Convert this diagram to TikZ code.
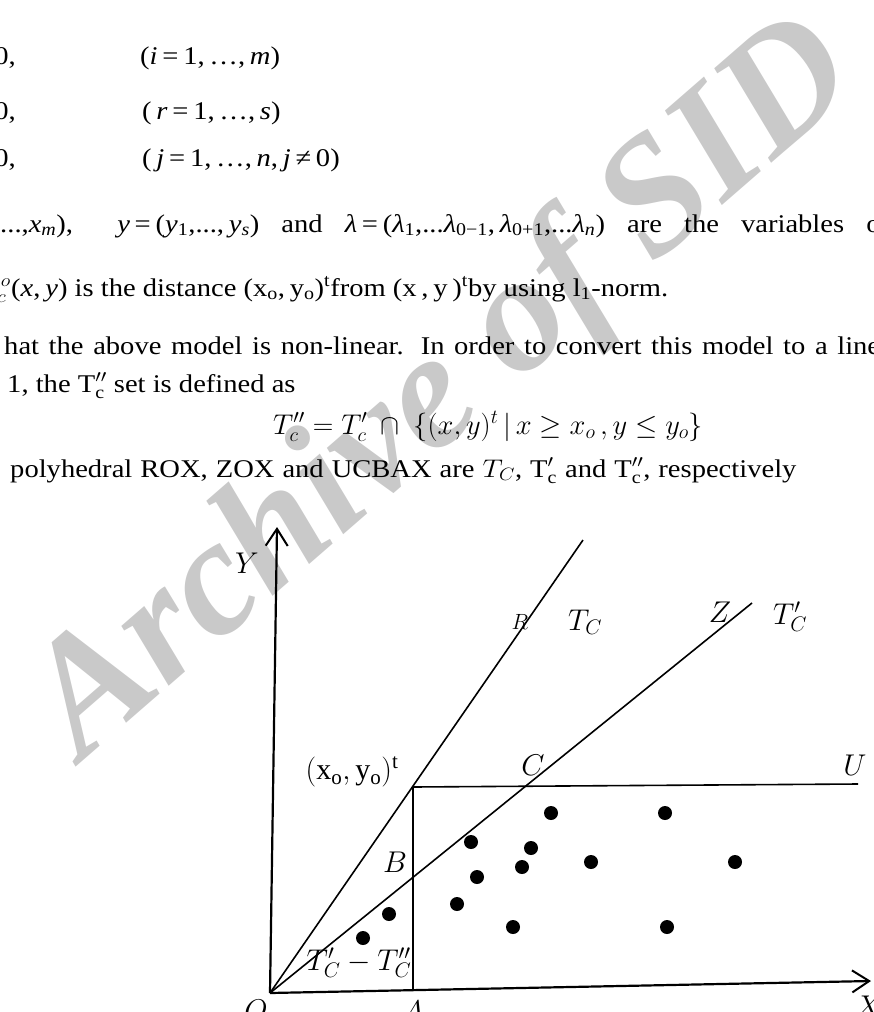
\RequirePackage{fix-cm}
\documentclass[tikz,border=0pt]{standalone}
\usepackage{fontspec}
\setmainfont{Liberation Serif}
\usetikzlibrary{arrows.meta}

\colorlet{markgray}{black!21}
% italic variable with a subscript, set in the text font
\newcommand{\vsub}[2]{\textit{#1}\textsubscript{#2}}

\begin{document}
\begin{tikzpicture}[x=1pt, y=-1pt,
  body/.style  = {anchor=base west, inner sep=0pt, xscale=1.12,
                  font=\fontsize{25.5}{30}\selectfont},
  eqn/.style   = {anchor=base west, inner sep=0pt,
                  font=\fontsize{28.5}{34}\selectfont},
  lbl/.style   = {inner sep=0pt, font=\fontsize{30}{36}\selectfont},
  ray/.style   = {line width=1.6pt},
  axis/.style  = {line width=2.2pt},
  barb/.style  = {-{Straight Barb[length=17pt, width=22pt, line width=2pt]}},
  dot/.style   = {circle, fill=black, inner sep=0pt, minimum size=14pt}
]
\useasboundingbox (0,0) rectangle (873,1012);

% watermark behind everything
\node[rotate=41, text=markgray, inner sep=0pt,
      font=\fontsize{166}{166}\selectfont\bfseries\itshape] (mark) at (446,392) {Archive of SID};

% text of the page above the figure
\node[body, anchor=base east] (c1) at (16,64)  {0,};
\node[body] (i1) at (140,64)  {(\textit{i}\,=\,1,\,…,\,\textit{m})};
\node[body, anchor=base east] (c2) at (16,119) {0,};
\node[body] (i2) at (142,119) {(\,\textit{r}\,=\,1,\,…,\,\textit{s})};
\node[body, anchor=base east] (c3) at (16,166) {0,};
\node[body] (i3) at (142,166) {(\,\textit{j}\,=\,1,\,…,\,\textit{n},\,\textit{j}\,≠\,0)};
\node[body] (l4) at (0,232) {\makebox[786pt][s]{\mbox{...,\vsub{x}{\textit{m}}),} \ \mbox{\textit{y}\,=\,(\vsub{y}{1},...,\,\vsub{y}{\textit{s}})} and \mbox{\textit{λ}\,=\,(\vsub{λ}{1},...\vsub{λ}{0−1},\,\vsub{λ}{0+1},...\vsub{λ}{\textit{n}})} are the variables o}};
\node[body, anchor=base east] (d5) at (11,296) {$d^{\,o}_{c}$};
\node[body] (l5) at (11,296) {(\textit{x},\,\textit{y}) is the distance (x\textsubscript{o},\,y\textsubscript{o})\textsuperscript{t}from (x\,,\,y\,)\textsuperscript{t}by using l\textsubscript{1}-norm.};
\node[body] (l6) at (4,354) {\makebox[782pt][s]{hat the above model is non-linear. In order to convert this model to a line}};
\node[body] (l7) at (7,392) {1, the $\mathrm{T}^{\prime\prime}_{\mathrm{c}}$ set is defined as};
\node[eqn]  (l8) at (273,434) {$T^{\prime\prime}_c=T^{\prime}_c\ \cap\ \{(x,y)^t\,|\,x\geq x_o\,,y\leq y_o\}$};
\node[body] (l9) at (10,477) {\makebox[702pt][s]{polyhedral ROX, ZOX and UCBAX are \mbox{$T_C$,} \mbox{$\mathrm{T}^{\prime}_{\mathrm{c}}$} and \mbox{$\mathrm{T}^{\prime\prime}_{\mathrm{c}}$,} respectively}};

% points of the figure
\coordinate (O)    at (270,993);
\coordinate (Ytip) at (277,527);
\coordinate (Xtip) at (871,981);
\coordinate (Rend) at (583,540);
\coordinate (Zend) at (752,603);
\coordinate (P)    at (413,787);
\coordinate (Uend) at (858,784);
\coordinate (A)    at (413,990);

% axes and rays
\draw[axis, barb] (O) -- (Ytip);
\draw[axis, barb] (O) -- (Xtip);
\draw[ray] (O) -- (Rend);
\draw[ray] (O) -- (Zend);
\draw[ray] (P) -- (Uend);
\draw[ray] (P) -- (A);

% labels
\node[lbl] (ly)  at (247,563) {$Y$};
\node[lbl, font=\fontsize{22}{26}\selectfont] (lr) at (520,622) {$R$};
\node[lbl] (ltc) at (585,622) {$T_C$};
\node[lbl] (lz)  at (720,612) {$Z$};
\node[lbl] (ltp) at (790,617) {$T^{\prime}_C$};
\node[lbl] (lp)  at (352,772) {$(\mathrm{x_o},\mathrm{y_o})^{\mathrm{t}}$};
\node[lbl] (lc)  at (533,765) {$C$};
\node[lbl] (lu)  at (855,765) {$U$};
\node[lbl] (lb)  at (395,862) {$B$};
\node[lbl] (ld)  at (359,963) {$T^{\prime}_C-T^{\prime\prime}_C$};
\node[lbl] (lo)  at (256,1010) {$O$};
\node[lbl] (la)  at (413,1011) {$A$};
\node[lbl] (lx)  at (869,1006) {$X$};

% data points
\foreach \px/\py [count=\k] in {551/813, 665/813, 471/842, 531/848, 522/867,
    591/862, 735/862, 477/877, 457/904, 513/927, 667/927, 389/914, 363/938}
  \node[dot] (p\k) at (\px,\py) {};
\end{tikzpicture}
\end{document}
